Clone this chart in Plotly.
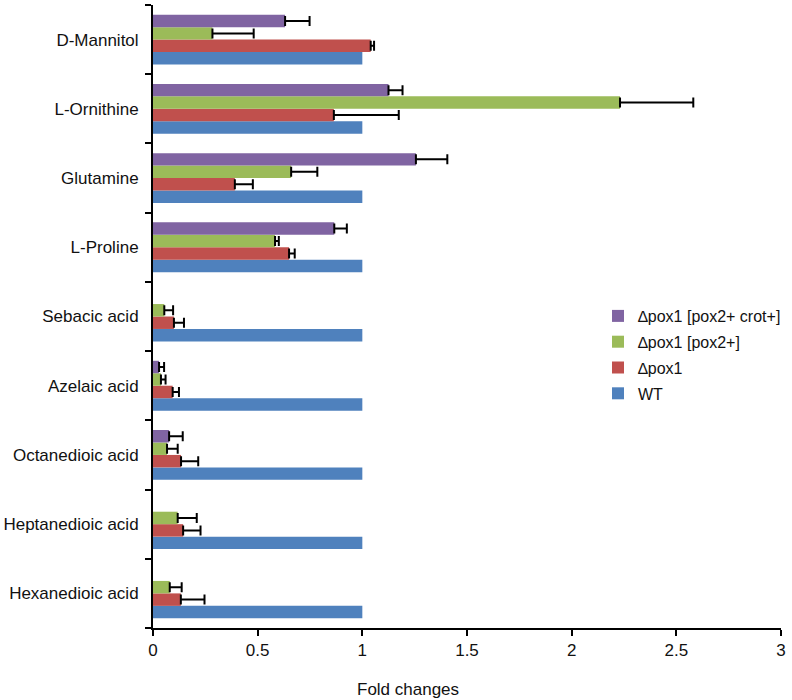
import plotly.graph_objects as go

categories = ["Hexanedioic acid", "Heptanedioic acid", "Octanedioic acid", "Azelaic acid",
              "Sebacic acid", "L-Proline", "Glutamine", "L-Ornithine", "D-Mannitol"]

wt = [1, 1, 1, 1, 1, 1, 1, 1, 1]
pox1 = [0.133, 0.144, 0.134, 0.094, 0.10, 0.65, 0.391, 0.864, 1.04]
pox1_err = [0.113, 0.083, 0.082, 0.03, 0.048, 0.027, 0.086, 0.31, 0.016]
pox2 = [0.08, 0.118, 0.067, 0.038, 0.054, 0.583, 0.66, 2.231, 0.284]
pox2_err = [0.057, 0.091, 0.051, 0.022, 0.042, 0.018, 0.125, 0.35, 0.197]
crot = [None, None, 0.077, 0.029, None, 0.866, 1.256, 1.125, 0.631]
crot_err = [None, None, 0.065, 0.024, None, 0.06, 0.15, 0.067, 0.117]

names = ["WT", "\u2206pox1", "\u2206pox1 [pox2+]", "\u2206pox1 [pox2+ crot+]"]
colors = ["#4F81BD", "#C0504D", "#9BBB59", "#8064A2"]

series = [(wt, None), (pox1, pox1_err), (pox2, pox2_err), (crot, crot_err)]

W, H = 792, 700
ML, MR, MT, MB = 153, 11, 5, 72

fig = go.Figure()
for i, ((vals, errs), name, col) in enumerate(zip(series, names, colors)):
    kw = {}
    if errs is not None:
        kw["error_x"] = dict(type="data", symmetric=False, array=errs,
                             arrayminus=[0] * len(errs), color="black",
                             thickness=2, width=5)
    fig.add_trace(go.Bar(y=categories, x=vals, name=name, orientation="h",
                         legendgroup="g%d" % i, legendrank=10 - i,
                         marker=dict(color=col, line=dict(width=0)), **kw))

fig.update_layout(
    width=W, height=H,
    margin=dict(l=ML, r=MR, t=MT, b=MB, autoexpand=False),
    paper_bgcolor="white", plot_bgcolor="white",
    barmode="group", bargap=0.28, bargroupgap=0,
    font=dict(family="Liberation Sans, Arial, sans-serif", size=17, color="#111"),
    showlegend=True,
    legend=dict(traceorder="grouped", tracegroupgap=2,
                x=(598 - ML) / (W - ML - MR), y=(H - MB - 355) / (H - MT - MB),
                xanchor="left", yanchor="middle",
                font=dict(size=16, color="#111"), itemwidth=30, bgcolor="rgba(0,0,0,0)"),
    xaxis=dict(range=[0, 3], tickvals=[0, 0.5, 1, 1.5, 2, 2.5, 3],
               ticktext=["0", "0.5", "1", "1.5", "2", "2.5", "3"],
               showgrid=False, zeroline=False, showline=True, linecolor="black",
               linewidth=2, ticks="outside", ticklen=6, tickwidth=2, tickcolor="black",
               ticklabelstandoff=0, automargin=False),
    yaxis=dict(showgrid=False, zeroline=False, showline=True, linecolor="black",
               linewidth=2, ticks="outside", ticklen=6, tickwidth=2, tickcolor="black",
               tickson="boundaries", ticklabelstandoff=9, automargin=False),
    annotations=[dict(text="Fold changes", x=(408 - ML) / (W - ML - MR), xref="paper",
                      y=-(689 - (H - MB)) / (H - MT - MB), yref="paper",
                      showarrow=False, font=dict(size=17, color="#111"),
                      xanchor="center", yanchor="middle")],
)

fig.write_html("out.html", config={"displayModeBar": False},
               post_script="document.body.style.margin='0';")
